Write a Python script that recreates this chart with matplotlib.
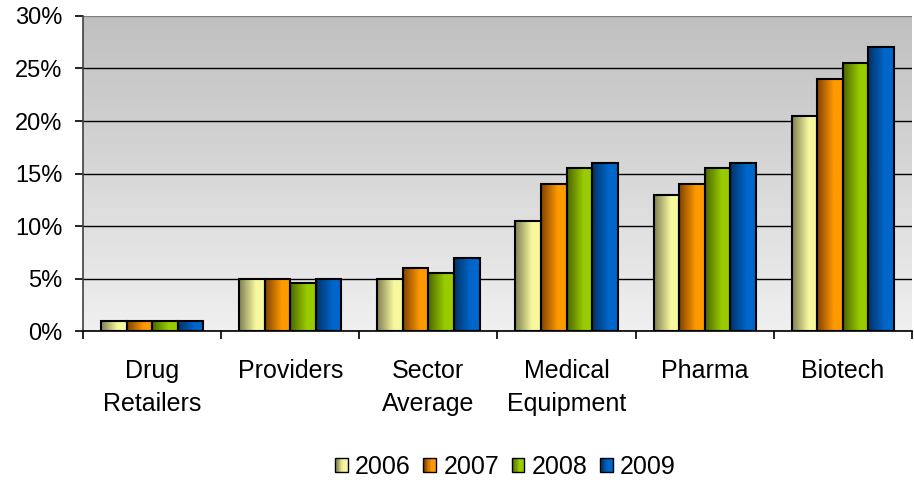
import numpy as np
import matplotlib.pyplot as plt
from matplotlib.patches import Rectangle
from matplotlib.legend_handler import HandlerBase
from matplotlib.ticker import FixedLocator, PercentFormatter

plt.rcParams['font.family'] = ['Liberation Sans', 'DejaVu Sans']

categories = ["Drug\nRetailers", "Providers", "Sector\nAverage",
              "Medical\nEquipment", "Pharma", "Biotech"]
years = ["2006", "2007", "2008", "2009"]
v2006 = [1.0, 5.0, 5.0, 10.5, 13.0, 20.5]
v2007 = [1.0, 5.0, 6.0, 14.0, 14.0, 24.0]
v2008 = [1.0, 4.6, 5.5, 15.5, 15.5, 25.5]
v2009 = [1.0, 5.0, 7.0, 16.0, 16.0, 27.0]
series = [v2006, v2007, v2008, v2009]

# dark edge -> bright face for each year's bar shading
shades = [
    ((0.50, 0.50, 0.33), (0.97, 0.97, 0.62)),
    ((0.50, 0.26, 0.00), (1.00, 0.60, 0.00)),
    ((0.30, 0.40, 0.00), (0.60, 0.80, 0.00)),
    ((0.00, 0.20, 0.40), (0.00, 0.40, 0.80)),
]


def ramp(dark, bright, n=64):
    t = np.clip(np.linspace(0, 1, n) / 0.65, 0, 1)
    d = np.array(dark)
    b = np.array(bright)
    return (d[None, :] + (b - d)[None, :] * t[:, None])[None, :, :]


class GradientSquare(HandlerBase):
    def __init__(self, dark, bright):
        super().__init__()
        self.dark = dark
        self.bright = bright

    def create_artists(self, legend, orig_handle, xdescent, ydescent,
                       width, height, fontsize, trans):
        n = 10
        cols = ramp(self.dark, self.bright, n)[0]
        arts = []
        for i in range(n):
            arts.append(Rectangle((-xdescent + i * width / n, -ydescent),
                                  width / n, height, facecolor=cols[i],
                                  edgecolor='none', transform=trans))
        arts.append(Rectangle((-xdescent, -ydescent), width, height,
                              fill=False, edgecolor='black', lw=1.0,
                              transform=trans))
        return arts


fig = plt.figure(figsize=(9.14, 4.84), dpi=100)
ax = fig.add_axes([0.0908, 0.316, 0.907, 0.651])

x = np.arange(len(categories))
width = 0.185
handles = []
for k, (vals, (dark, bright)) in enumerate(zip(series, shades)):
    bars = ax.bar(x + (k - 1.5) * width, vals, width, facecolor='none',
                  edgecolor='black', linewidth=1.5, zorder=3, label=years[k])
    img = ramp(dark, bright)
    for p in bars:
        x0, y0 = p.get_x(), p.get_y()
        ax.imshow(img, extent=(x0, x0 + p.get_width(), y0, y0 + p.get_height()),
                  aspect='auto', zorder=2, interpolation='bilinear')
    handles.append(bars)

# gray backdrop, darker towards the top
bg = np.linspace(0.94, 0.75, 100)[:, None] * np.ones((1, 2))
ax.imshow(bg[:, :, None] * np.ones(3)[None, None, :], extent=(0, 1, 0, 1),
          transform=ax.transAxes, aspect='auto', origin='lower', zorder=0.1)

ax.set_xlim(-0.5, len(categories) - 0.5)
ax.set_ylim(0, 30)
ax.set_yticks(np.arange(0, 31, 5))
ax.yaxis.set_major_formatter(PercentFormatter(decimals=0))
ax.set_xticks(x)
ax.set_xticklabels(categories, linespacing=1.5)
ax.xaxis.set_minor_locator(FixedLocator(np.arange(-0.5, len(categories), 1)))
ax.tick_params(axis='x', which='major', length=0, pad=20, labelsize=18)
ax.tick_params(axis='x', which='minor', length=6, width=1.2, direction='out')
ax.tick_params(axis='y', length=6, width=1.2, direction='out', pad=9,
               labelsize=17)

ax.set_axisbelow(True)
ax.yaxis.grid(True, color='black', linewidth=1.0)
ax.grid(axis='x', visible=False)
for s in ['top', 'right']:
    ax.spines[s].set_visible(False)
ax.spines['left'].set_color('#404040')
ax.spines['left'].set_linewidth(1.2)
ax.spines['bottom'].set_linewidth(1.2)
ax.get_ygridlines()[-1].set_color('#808080')

fig.legend(handles, years, loc='center', bbox_to_anchor=(0.553, 0.035),
           ncol=4, frameon=False, fontsize=18, handlelength=0.5,
           handleheight=0.5, handletextpad=0.3, columnspacing=0.5,
           handler_map={h: GradientSquare(*s) for h, s in zip(handles, shades)})

fig.savefig("out.png", dpi=100)
